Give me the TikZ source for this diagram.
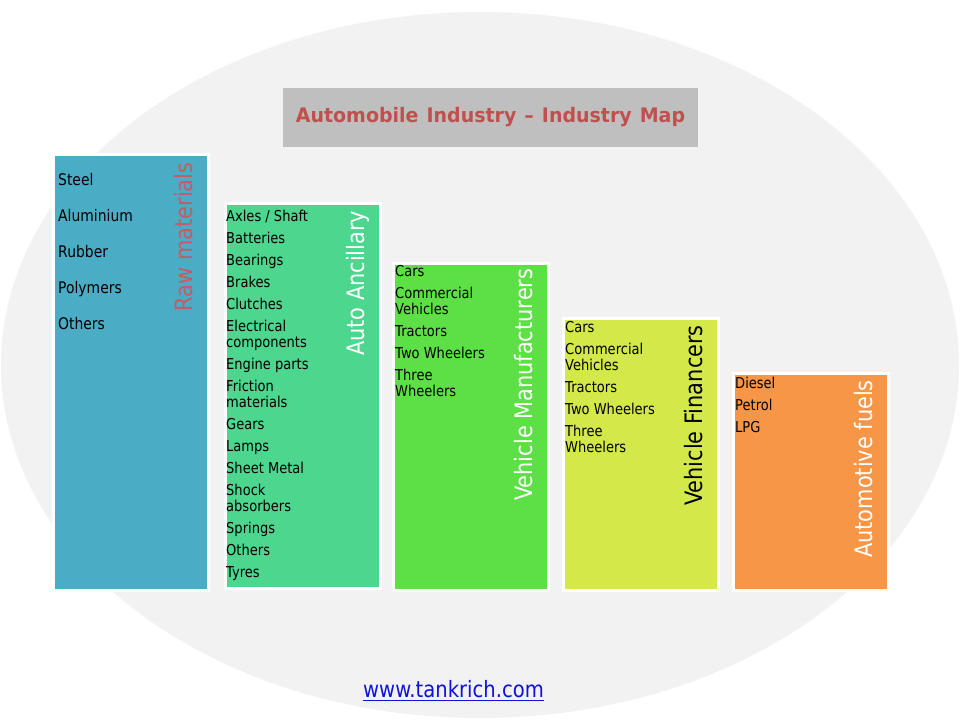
\documentclass[tikz,border=0pt]{standalone}
\usepackage{fontspec}
\setmainfont{DejaVu Sans}[FakeStretch=0.87]
\newfontfamily\titlefont{DejaVu Sans}[FakeStretch=0.95]
\usetikzlibrary{positioning}

\definecolor{ovalgrey}{HTML}{F2F2F2}
\definecolor{titlegrey}{HTML}{BFBFBF}
\definecolor{titlered}{HTML}{C0504D}
\definecolor{rawred}{HTML}{C85A64}
\definecolor{rawcol}{HTML}{4BACC6}
\definecolor{anccol}{HTML}{4DD68D}
\definecolor{mfgcol}{HTML}{5CE046}
\definecolor{fincol}{HTML}{D4E84A}
\definecolor{fuelcol}{HTML}{F79646}
\definecolor{urlblue}{HTML}{1010E0}

\begin{document}
\begin{tikzpicture}
  [x=1pt,y=-1pt,
   column/.style={rectangle,draw=white,line width=3pt,minimum width=155pt,anchor=north west,inner sep=0pt},
   items/.style={anchor=north west,inner sep=0pt,align=left,text=black,font=\fontsize{15}{16}\selectfont},
   heading/.style={rotate=90,anchor=base east,inner sep=0pt,font=\fontsize{24}{28}\selectfont}]
  \useasboundingbox (0,0) rectangle (960,720);
  \fill[ovalgrey] (480,365) ellipse [x radius=479pt, y radius=353pt];

  % title
  \node[fill=titlegrey,minimum width=415pt,minimum height=59pt,inner sep=0pt,text=titlered,
        font=\titlefont\bfseries\fontsize{20}{24}\selectfont] (title) at (490.5,117.5)
        {\spaceskip=8pt Automobile Industry – Industry Map};

  % columns
  \node[column,fill=rawcol,minimum height=436pt] (raw) at (51.5,152.5) {};
  \node[column,fill=anccol,minimum height=385pt] (anc) at (223.5,201.5) {};
  \node[column,fill=mfgcol,minimum height=327pt] (mfg) at (391.5,261.5) {};
  \node[column,fill=fincol,minimum height=272pt] (fin) at (561.5,316.5) {};
  \node[column,fill=fuelcol,minimum height=217pt] (fuel) at (731.5,371.5) {};

  % vertical headings
  \node[heading,text=rawred] (rawhead) at ([shift={(-17.5pt,-10pt)}]raw.north east) {Raw materials};
  \node[heading,text=white] (anchead) at ([shift={(-17.5pt,-9pt)}]anc.north east) {Auto Ancillary};
  \node[heading,text=white] (mfghead) at ([shift={(-17.5pt,-7pt)}]mfg.north east) {Vehicle Manufacturers};
  \node[heading,text=black] (finhead) at ([shift={(-17.5pt,-8.5pt)}]fin.north east) {Vehicle Financers};
  \node[heading,text=white] (fuelhead) at ([shift={(-17.5pt,-8.5pt)}]fuel.north east) {Automotive fuels};

  % item lists
  \node[items,font=\fontsize{16}{16}\selectfont] (rawlist) at ([shift={(6.5pt,-20.5pt)}]raw.north west)
    {Steel\\[20pt]Aluminium\\[20pt]Rubber\\[20pt]Polymers\\[20pt]Others};
  \node[items] (anclist) at ([shift={(2.5pt,-8.8pt)}]anc.north west)
    {Axles / Shaft\\[6pt]Batteries\\[6pt]Bearings\\[6pt]Brakes\\[6pt]Clutches\\[6pt]%
     Electrical\\components\\[6pt]Engine parts\\[6pt]Friction\\materials\\[6pt]Gears\\[6pt]%
     Lamps\\[6pt]Sheet Metal\\[6pt]Shock\\absorbers\\[6pt]Springs\\[6pt]Others\\[6pt]Tyres};
  \node[items] (mfglist) at ([shift={(3.5pt,-4pt)}]mfg.north west)
    {Cars\\[6pt]Commercial\\Vehicles\\[6pt]Tractors\\[6pt]Two Wheelers\\[6pt]Three\\Wheelers};
  \node[items] (finlist) at ([shift={(3.5pt,-5pt)}]fin.north west)
    {Cars\\[6pt]Commercial\\Vehicles\\[6pt]Tractors\\[6pt]Two Wheelers\\[6pt]Three\\Wheelers};
  \node[items] (fuellist) at ([shift={(3.5pt,-5.4pt)}]fuel.north west)
    {Diesel\\[6pt]Petrol\\[6pt]LPG};

  % link
  \node[inner sep=0pt,anchor=base,text=urlblue,font=\fontsize{22.5}{26}\selectfont] (url) at (453.5,697) {www.tankrich.com};
  \draw[urlblue,line width=1.8pt] ([yshift=-3.5pt]url.base west) -- ([yshift=-3.5pt]url.base east);
\end{tikzpicture}
\end{document}
